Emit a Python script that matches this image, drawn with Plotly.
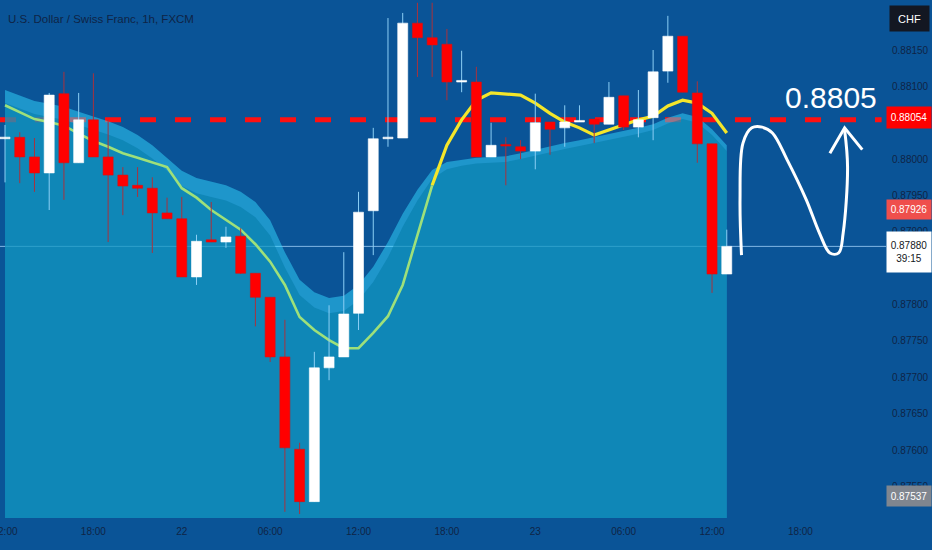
import plotly.graph_objects as go

# ---------------- data ----------------
hours = list(range(50))  # hourly bars, hour 0 = 21st 12:00
opens = [0.88028, 0.88030, 0.88003, 0.87981, 0.88090, 0.87995, 0.88054, 0.88003, 0.87978, 0.87964,
         0.87960, 0.87926, 0.87918, 0.87838, 0.87889, 0.87886, 0.87894, 0.87843, 0.87810, 0.87728,
         0.87601, 0.87529, 0.87713, 0.87728, 0.87788, 0.87929, 0.88028, 0.88029, 0.88187, 0.88167,
         0.88158, 0.88106, 0.88106, 0.88003, 0.88019, 0.88017, 0.88011, 0.88051, 0.88043, 0.88051,
         0.88055, 0.88048, 0.88087, 0.88044, 0.88057, 0.88121, 0.88169, 0.88091, 0.88021, 0.87842]
highs = [0.88047, 0.88037, 0.88029, 0.88091, 0.88120, 0.88091, 0.88118, 0.88054, 0.87989, 0.87989,
         0.87975, 0.87947, 0.87948, 0.87896, 0.87941, 0.87907, 0.87905, 0.87843, 0.87810, 0.87779,
         0.87610, 0.87735, 0.87799, 0.87872, 0.87955, 0.88043, 0.88194, 0.88201, 0.88215, 0.88215,
         0.88179, 0.88149, 0.88127, 0.88050, 0.88030, 0.88026, 0.88090, 0.88051, 0.88074, 0.88074,
         0.88055, 0.88106, 0.88087, 0.88095, 0.88150, 0.88197, 0.88169, 0.88107, 0.88021, 0.87903]
lows = [0.87968, 0.87967, 0.87955, 0.87930, 0.87944, 0.87995, 0.88003, 0.87886, 0.87923, 0.87948,
        0.87871, 0.87918, 0.87838, 0.87827, 0.87886, 0.87878, 0.87842, 0.87770, 0.87721, 0.87515,
        0.87512, 0.87529, 0.87696, 0.87728, 0.87765, 0.87868, 0.88017, 0.88029, 0.88113, 0.88113,
        0.88081, 0.88092, 0.88003, 0.88003, 0.87964, 0.88000, 0.87986, 0.88006, 0.88017, 0.88051,
        0.88022, 0.88048, 0.88040, 0.88030, 0.88026, 0.88105, 0.88092, 0.87995, 0.87816, 0.87842]
closes = [0.88030, 0.88003, 0.87981, 0.88088, 0.87995, 0.88054, 0.88003, 0.87978, 0.87963, 0.87960,
          0.87926, 0.87918, 0.87838, 0.87887, 0.87886, 0.87893, 0.87843, 0.87810, 0.87728, 0.87603,
          0.87529, 0.87713, 0.87728, 0.87787, 0.87927, 0.88028, 0.88029, 0.88187, 0.88167, 0.88157,
          0.88106, 0.88107, 0.88003, 0.88019, 0.88018, 0.88011, 0.88050, 0.88041, 0.88051, 0.88052,
          0.88048, 0.88085, 0.88044, 0.88054, 0.88120, 0.88169, 0.88092, 0.88021, 0.87842, 0.87880]

# moving average line
ma = [0.88074, 0.88065, 0.88055, 0.88051, 0.88046, 0.88035, 0.88025, 0.88017, 0.88008, 0.88002,
      0.87995, 0.87989, 0.87960, 0.87947, 0.87930, 0.87916, 0.87903, 0.87883, 0.87859, 0.87827,
      0.87783, 0.87765, 0.87751, 0.87740, 0.87740, 0.87761, 0.87784, 0.87827, 0.87896, 0.87964,
      0.88019, 0.88054, 0.88081, 0.88091, 0.88090, 0.88088, 0.88077, 0.88063, 0.88051, 0.88043,
      0.88033, 0.88040, 0.88047, 0.88054, 0.88059, 0.88073, 0.88081, 0.88077, 0.88063, 0.88036]
ma_switch = 29  # index where the line turns yellow

# area indicator (outer glow edge and inner fill edge)
area_outer = [0.88095, 0.88087, 0.88080, 0.88076, 0.88072, 0.88065, 0.88059, 0.88052, 0.88044, 0.88033,
              0.88019, 0.88002, 0.87984, 0.87974, 0.87969, 0.87964, 0.87955, 0.87941, 0.87916, 0.87872,
              0.87834, 0.87817, 0.87809, 0.87812, 0.87827, 0.87852, 0.87886, 0.87925, 0.87958, 0.87985,
              0.87996, 0.87999, 0.88002, 0.88003, 0.88004, 0.88008, 0.88013, 0.88017, 0.88022, 0.88026,
              0.88030, 0.88035, 0.88039, 0.88043, 0.88048, 0.88057, 0.88063, 0.88058, 0.88041, 0.88019]
area_inner = [0.88077, 0.88069, 0.88062, 0.88058, 0.88054, 0.88047, 0.88041, 0.88034, 0.88026, 0.88015,
              0.88001, 0.87984, 0.87963, 0.87953, 0.87948, 0.87943, 0.87934, 0.87920, 0.87895, 0.87851,
              0.87813, 0.87796, 0.87788, 0.87791, 0.87806, 0.87831, 0.87865, 0.87907, 0.87943, 0.87973,
              0.87986, 0.87991, 0.87994, 0.87995, 0.87996, 0.88000, 0.88005, 0.88009, 0.88014, 0.88018,
              0.88022, 0.88027, 0.88031, 0.88035, 0.88040, 0.88049, 0.88055, 0.88050, 0.88033, 0.88011]

tick_hours = [0, 6, 12, 18, 24, 30, 36, 42, 48, 54]
tick_text = ["12:00", "18:00", "22", "06:00", "12:00", "18:00", "23", "06:00", "12:00", "18:00"]
price_ticks = [0.8815, 0.8810, 0.8800, 0.8795, 0.8790, 0.8780, 0.8775, 0.8770, 0.8765, 0.8760, 0.8755]

target_level = 0.88054
last_price = 0.87880
ma_label = 0.87926
low_label = 0.87537
target_text = "0.8805"

# hand-drawn projection arrow (hour, price)
arrow_curve_x = [50.0, 49.9, 50.1, 50.7, 51.4, 52.1, 53.1, 54.4, 55.3, 56.0, 56.6, 56.9, 57.2, 57.0]
arrow_curve_y = [0.87868, 0.87944, 0.88022, 0.88043, 0.88044, 0.88036, 0.87999, 0.87944, 0.87898,
                 0.87871, 0.87871, 0.87898, 0.87989, 0.88040]
arrow_head_x = [56.0, 57.0, 58.2]
arrow_head_y = [0.88008, 0.88043, 0.88013]

# ---------------- styling ----------------
BG = "#0a5497"
TXT = "#0f2446"
FONT = "Liberation Sans, Arial, sans-serif"
UP_BODY = "#ffffff"
UP_WICK = "#8ccff5"
DN_BODY = "#ff0000"
DN_WICK = "#a8323e"
HALF_W = 0.34

fig = go.Figure()

# area indicator
fig.add_trace(go.Scatter(x=hours, y=area_outer, mode="lines", line=dict(width=0, color="rgba(0,0,0,0)"),
                         fill="tozeroy", fillcolor="rgba(50,216,255,0.5)", hoverinfo="skip", showlegend=False))
fig.add_trace(go.Scatter(x=hours, y=area_inner, mode="lines", line=dict(width=0, color="rgba(0,0,0,0)"),
                         fill="tozeroy", fillcolor="rgba(0,120,163,0.5)", hoverinfo="skip", showlegend=False))

# moving average (green then yellow)
fig.add_trace(go.Scatter(x=hours[:ma_switch + 1], y=ma[:ma_switch + 1], mode="lines",
                         line=dict(color="#9ee07a", width=2.6), hoverinfo="skip", showlegend=False))
fig.add_trace(go.Scatter(x=hours[ma_switch:], y=ma[ma_switch:], mode="lines",
                         line=dict(color="#f4e62a", width=3.2), hoverinfo="skip", showlegend=False))

# candles (wicks + bodies as scatter so that they sit above the area fill)
up = [c >= o for o, c in zip(opens, closes)]
styles = [(True, UP_WICK, UP_BODY, "#ffffff"), (False, DN_WICK, DN_BODY, "#d81010")]
for is_up, wick_col, body_col, line_col in styles:
    wx, wy = [], []
    for i in range(len(hours)):
        if up[i] == is_up:
            wx += [hours[i], hours[i], None]
            wy += [lows[i], highs[i], None]
    fig.add_trace(go.Scatter(x=wx, y=wy, mode="lines", line=dict(color=wick_col, width=1),
                             hoverinfo="skip", showlegend=False))
for is_up, wick_col, body_col, line_col in styles:
    bx, by = [], []
    for i in range(len(hours)):
        if up[i] == is_up:
            lo = min(opens[i], closes[i])
            hi = max(max(opens[i], closes[i]), lo + 0.000022)
            x0, x1 = hours[i] - HALF_W, hours[i] + HALF_W
            bx += [x0, x1, x1, x0, x0, None]
            by += [lo, lo, hi, hi, lo, None]
    fig.add_trace(go.Scatter(x=bx, y=by, mode="lines", fill="toself", fillcolor=body_col,
                             line=dict(color=line_col, width=0.6), hoverinfo="skip", showlegend=False))

# arrow
fig.add_trace(go.Scatter(x=arrow_curve_x, y=arrow_curve_y, mode="lines",
                         line=dict(color="white", width=3, shape="spline", smoothing=1.0),
                         hoverinfo="skip", showlegend=False))
fig.add_trace(go.Scatter(x=arrow_head_x, y=arrow_head_y, mode="lines", line=dict(color="white", width=3),
                         hoverinfo="skip", showlegend=False))

# level lines
fig.add_shape(type="line", xref="paper", x0=0, x1=0.995, y0=target_level, y1=target_level,
              line=dict(color="#ff1010", width=5, dash="16px,19px"), layer="below")
fig.add_shape(type="line", xref="paper", x0=0, x1=1, y0=last_price, y1=last_price,
              line=dict(color="rgba(170,215,255,0.75)", width=1), layer="below")

# annotations
ann = []
ann.append(dict(xref="paper", yref="paper", x=0, y=1, xanchor="left", yanchor="middle", xshift=6, yshift=-19,
                text="U.S. Dollar / Swiss Franc, 1h, FXCM", showarrow=False,
                font=dict(family=FONT, size=11.5, color=TXT)))
ann.append(dict(xref="paper", yref="paper", x=1, y=1, xanchor="left", yanchor="top", xshift=3, yshift=-5,
                text="CHF", showarrow=False, bgcolor="#131722", width=35, height=21, borderpad=2,
                font=dict(family=FONT, size=11, color="white")))
ann.append(dict(xref="x", yref="y", x=56.1, y=0.88085, text=target_text, showarrow=False,
                font=dict(family=FONT, size=30, color="white")))


def price_label(price, text, bg, fg, yshift=0, height=None):
    d = dict(xref="paper", yref="y", x=1, y=price, xanchor="left", yanchor="middle", xshift=0, yshift=yshift,
             text=text, showarrow=False, bgcolor=bg, width=40, borderpad=2, align="center",
             font=dict(family=FONT, size=10, color=fg))
    if height:
        d["height"] = height
    return d


ann.append(price_label(target_level, "0.88054", "#ff0000", "white", yshift=2, height=17))
ann.append(price_label(ma_label, "0.87926", "#ef4f4c", "white", yshift=3, height=15))
ann.append(price_label(last_price, "0.87880<br>39:15", "#ffffff", "#131722", yshift=-6, height=36))
ann.append(price_label(low_label, "0.87537", "#80868f", "white", height=16))

fig.update_layout(
    width=932, height=550,
    margin=dict(l=0, r=46, t=0, b=32),
    paper_bgcolor=BG, plot_bgcolor=BG,
    showlegend=False,
    annotations=ann,
    font=dict(family=FONT, color=TXT, size=10),
)
fig.update_xaxes(range=[-0.34, 59.81], tickmode="array", tickvals=tick_hours, ticktext=tick_text,
                 showgrid=False, zeroline=False, showline=False, ticks="", ticklabelstandoff=6,
                 automargin=False, ticklabeloverflow="allow", tickfont=dict(family=FONT, size=10, color=TXT))
fig.update_yaxes(side="right", range=[0.875065, 0.882188], tickmode="array", tickvals=price_ticks,
                 tickformat=".5f", automargin=False,
                 showgrid=False, zeroline=False, showline=False, ticks="", ticklabelstandoff=5,
                 tickfont=dict(family=FONT, size=10, color=TXT))

fig.write_html("out.html", config={"displayModeBar": False},
               post_script="document.body.style.margin='0';document.body.style.overflow='hidden';")
